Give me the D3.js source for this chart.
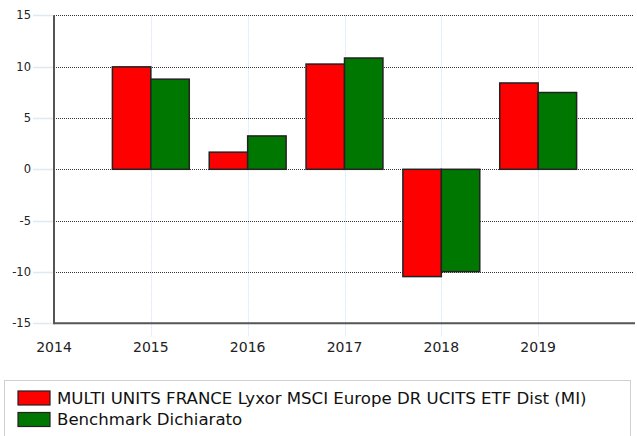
<!DOCTYPE html>
<html>
<head>
<meta charset="utf-8">
<script src="https://cdn.jsdelivr.net/npm/d3@7"></script>
<style>
  body { margin: 0; background: #fff; }
  svg { display: block; }
</style>
</head>
<body>
<div id="root"></div>
<script>
var years = [2015, 2016, 2017, 2018, 2019];
var fund = [9.98, 1.67, 10.25, -10.45, 8.41];
var bench = [8.78, 3.25, 10.84, -9.97, 7.48];
var yTicks = [-15, -10, -5, 0, 5, 10, 15];
var xTicks = [2014, 2015, 2016, 2017, 2018, 2019];
var seriesNames = ["MULTI UNITS FRANCE Lyxor MSCI Europe DR UCITS ETF Dist (MI)", "Benchmark Dichiarato"];
var colors = ["#ff0000", "#007700"];

var svgWidth = 637,
    svgHeight = 436;

var svg = d3.select("#root")
    .append("svg")
    .attr("width", svgWidth)
    .attr("height", svgHeight);

var x = d3.scaleLinear()
    .domain([2014, 2020])
    .range([54, 635]);

var y = d3.scaleLinear()
    .domain([-15, 15])
    .range([323.3, 15.3]);

var barW = (x(2015) - x(2014)) * 0.397;

// vertical light gridlines
svg.append("g")
    .selectAll("line")
    .data(xTicks.slice(1))
    .enter().append("line")
    .attr("x1", function (d) { return Math.round(x(d)) + 0.5; })
    .attr("x2", function (d) { return Math.round(x(d)) + 0.5; })
    .attr("y1", y(15))
    .attr("y2", y(-15) + 14)
    .attr("stroke", "#cfe0f5")
    .attr("stroke-dasharray", "1,1");

// horizontal dotted gridlines
svg.append("g")
    .selectAll("line")
    .data(yTicks.slice(1))
    .enter().append("line")
    .attr("x1", x(2014))
    .attr("x2", 633)
    .attr("y1", function (d) { return Math.round(y(d)) + 0.5; })
    .attr("y2", function (d) { return Math.round(y(d)) + 0.5; })
    .attr("stroke", "#333")
    .attr("stroke-dasharray", "1,1");

// y tick marks (pale)
svg.append("g")
    .selectAll("line")
    .data(yTicks)
    .enter().append("line")
    .attr("x1", 33)
    .attr("x2", 53)
    .attr("y1", function (d) { return Math.round(y(d)) + 0.5; })
    .attr("y2", function (d) { return Math.round(y(d)) + 0.5; })
    .attr("stroke", "#dde9f7")
    .attr("stroke-width", 1.5);

// bars
var groups = svg.append("g")
    .selectAll("g")
    .data(years)
    .enter().append("g");

groups.selectAll("rect")
    .data(function (d, i) {
        return [
            { year: d, value: fund[i], k: 0 },
            { year: d, value: bench[i], k: 1 }
        ];
    })
    .enter().append("rect")
    .attr("x", function (d) { return x(d.year) - barW + d.k * barW; })
    .attr("y", function (d) { return y(Math.max(0, d.value)); })
    .attr("width", barW)
    .attr("height", function (d) { return Math.abs(y(d.value) - y(0)); })
    .attr("fill", function (d) { return colors[d.k]; })
    .attr("stroke", "#222")
    .attr("stroke-width", 1.5);

// axis lines
svg.append("line")
    .attr("x1", x(2014)).attr("x2", x(2014))
    .attr("y1", y(15)).attr("y2", y(-15) + 1)
    .attr("stroke", "#555")
    .attr("stroke-width", 2);

svg.append("line")
    .attr("x1", x(2014)).attr("x2", 635)
    .attr("y1", y(-15)).attr("y2", y(-15))
    .attr("stroke", "#555")
    .attr("stroke-width", 2);

// y labels
svg.append("g")
    .attr("font-family", "Verdana, 'DejaVu Sans', sans-serif")
    .attr("font-size", 11.5)
    .attr("fill", "#222")
    .attr("text-anchor", "end")
    .selectAll("text")
    .data(yTicks)
    .enter().append("text")
    .attr("x", 31)
    .attr("y", function (d) { return y(d); })
    .attr("dy", "0.35em")
    .text(function (d) { return d; });

// x labels
svg.append("g")
    .attr("font-family", "Verdana, 'DejaVu Sans', sans-serif")
    .attr("font-size", 14)
    .attr("fill", "#222")
    .attr("text-anchor", "middle")
    .selectAll("text")
    .data(xTicks)
    .enter().append("text")
    .attr("x", function (d) { return x(d); })
    .attr("y", 352)
    .text(function (d) { return d; });

// legend
svg.append("rect")
    .attr("x", 4.5)
    .attr("y", 380.5)
    .attr("width", 626)
    .attr("height", 70)
    .attr("fill", "#fff")
    .attr("stroke", "#d0d0d0");

var legend = svg.append("g")
    .selectAll("g")
    .data(seriesNames)
    .enter().append("g")
    .attr("transform", function (d, i) {
        return "translate(0," + (391 + i * 21.5) + ")";
    });

legend.append("rect")
    .attr("x", 18)
    .attr("y", 0)
    .attr("width", 32)
    .attr("height", 14)
    .attr("fill", function (d, i) { return colors[i]; })
    .attr("stroke", "#222")
    .attr("stroke-width", 1.2);

legend.append("text")
    .attr("x", 57)
    .attr("y", 7)
    .attr("dy", "0.35em")
    .attr("font-family", "Verdana, 'DejaVu Sans', sans-serif")
    .attr("font-size", 16.6)
    .attr("fill", "#111")
    .text(function (d) { return d; });
</script>
</body>
</html>
